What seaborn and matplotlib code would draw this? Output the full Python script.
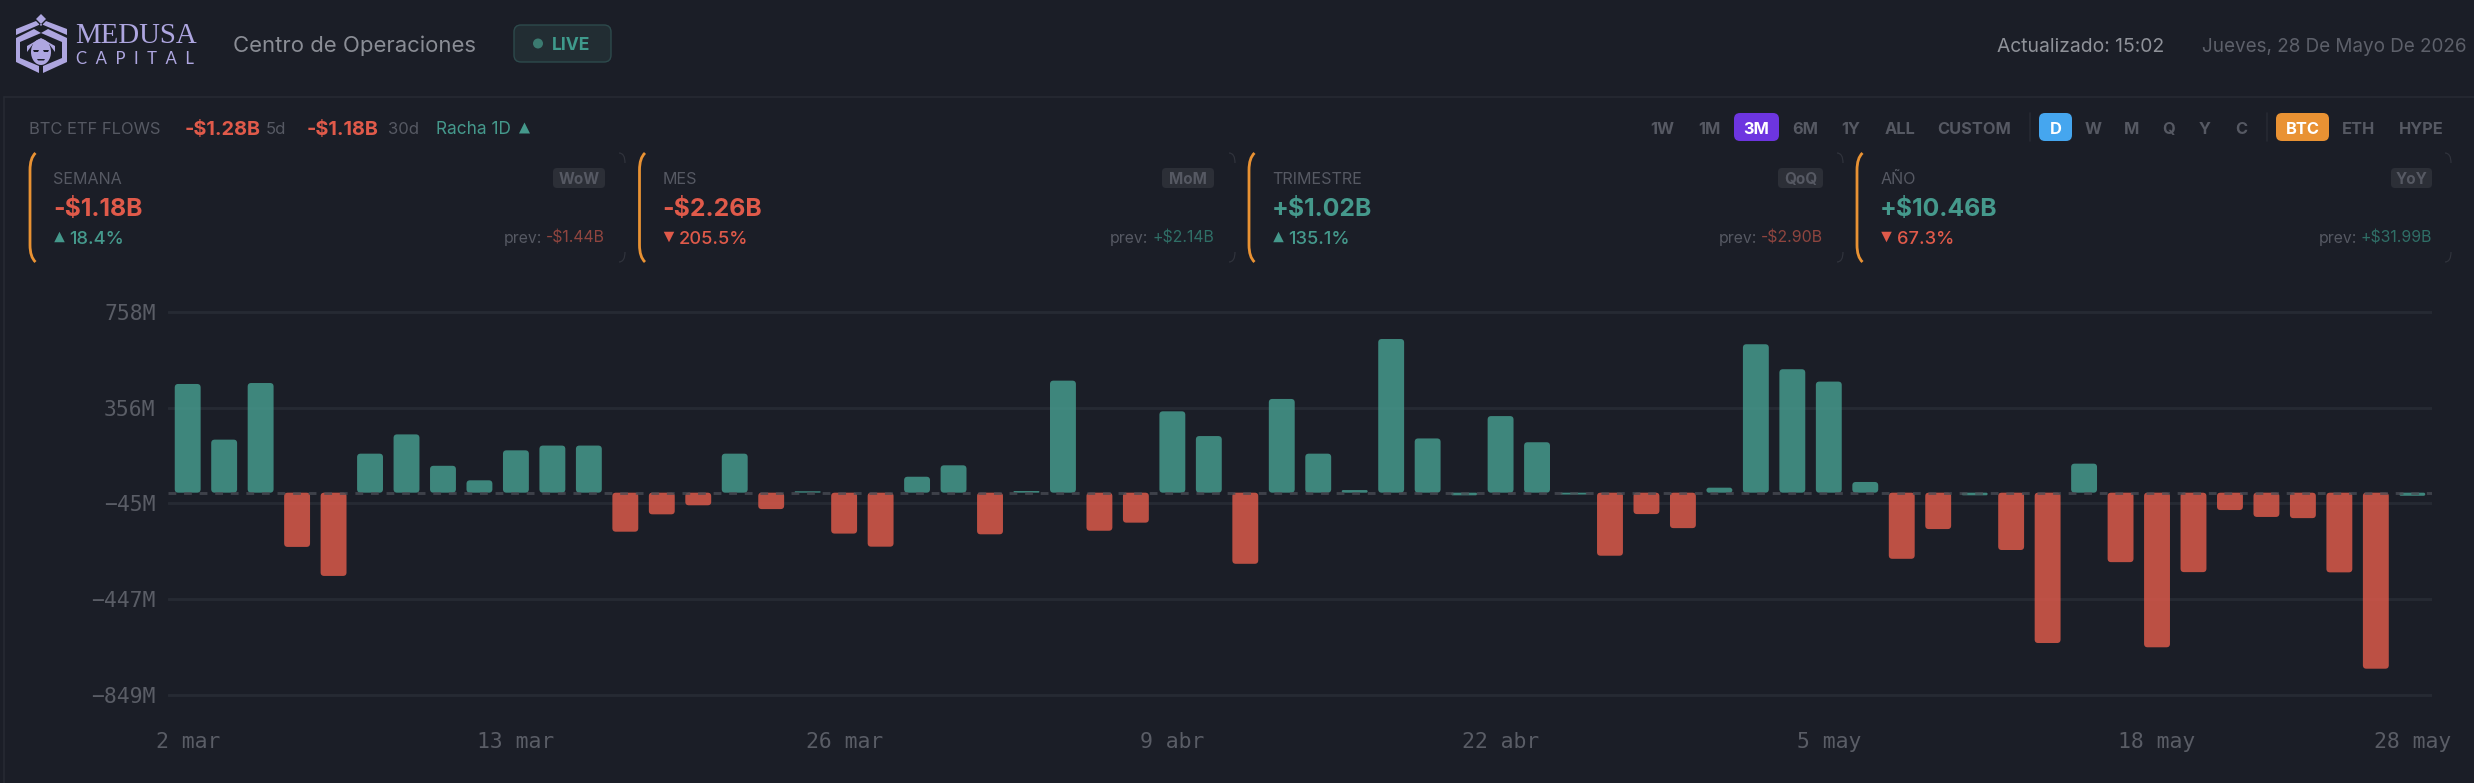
import matplotlib

matplotlib.use("Agg")
import matplotlib.pyplot as plt
import pandas as pd
import seaborn as sns
from matplotlib.patches import Circle, FancyBboxPatch, PathPatch, Polygon, Ellipse
from matplotlib.path import Path

# daily net flows, millions of dollars, 2 mar -> 28 may
flows = [
    457, 223, 461, -228, -350, 164, 245, 113, 52, 178, 198, 198, -164, -91, -53, 164,
    -69, 6, -172, -227, 67, 115, -175, 7, 471, -160, -126, 342, 238, -299, 394, 164,
    11, 646, 228, -11, 322, 212, -8, -265, -90, -149, 21, 624, 519, 467, 45, -278,
    -153, -11, -241, -632, 122, -292, -650, -334, -73, -102, -107, -335, -740, -13,
]
y_ticks = [758, 356, -45, -447, -849]
y_tick_labels = ["758M", "356M", "−45M", "−447M", "−849M"]
x_tick_days = [0, 9, 18, 27, 36, 45, 54, 61]
x_tick_labels = ["2 mar", "13 mar", "26 mar", "9 abr", "22 abr", "5 may", "18 may", "28 may"]

card_names = ["SEMANA", "MES", "TRIMESTRE", "AÑO"]
card_values = ["-$1.18B", "-$2.26B", "+$1.02B", "+$10.46B"]
card_deltas = ["18.4%", "205.5%", "135.1%", "67.3%"]
card_delta_up = [True, False, True, False]
card_badges = ["WoW", "MoM", "QoQ", "YoY"]
card_prev = ["-$1.44B", "+$2.14B", "-$2.90B", "+$31.99B"]

range_buttons = ["1W", "1M", "3M", "6M", "1Y", "ALL", "CUSTOM"]
freq_buttons = ["D", "W", "M", "Q", "Y", "C"]
asset_buttons = ["BTC", "ETH", "HYPE"]

BG = "#1b1e27"
LINE = "#262a33"
TEAL = "#45998c"
RED = "#da594a"
MUTED = "#565963"
ORANGE = "#e99233"
LOGO = "#aea6e0"
UI_FONT = ["Inter", "DejaVu Sans"]
MONO_FONT = ["DejaVu Sans Mono"]

W, H = 2474, 783

sns.set_theme(style="dark")
plt.rcParams["font.family"] = UI_FONT

fig = plt.figure(figsize=(W / 100, H / 100), dpi=100, facecolor=BG)

# overlay in pixels for the dashboard furniture
ui = fig.add_axes([0, 0, 1, 1], zorder=0)
ui.set_xlim(0, W)
ui.set_ylim(H, 0)
ui.axis("off")


def label(x, y, s, size, color=MUTED, weight="normal", ha="left", family=None):
    return ui.text(
        x, y, s, fontsize=size, color=color, fontweight=weight, ha=ha, va="center_baseline",
        family=family or UI_FONT,
    )


def pill(x0, y0, x1, y1, radius, face, edge="none", lw=0):
    ui.add_patch(
        FancyBboxPatch(
            (x0 + radius, y0 + radius), x1 - x0 - 2 * radius, y1 - y0 - 2 * radius,
            boxstyle=f"round,pad={radius},rounding_size={radius}",
            facecolor=face, edgecolor=edge, linewidth=lw,
        )
    )


def draw_logo():
    ui.add_patch(Polygon([(41, 14), (46, 19), (41, 24), (36, 19)], color=LOGO, lw=0))
    ui.add_patch(Polygon([(16, 29), (36, 21), (41, 26), (46, 21), (67, 29), (67, 35), (41, 24), (16, 35)], color=LOGO, lw=0))
    ui.add_patch(Polygon([(16, 38), (34, 29), (41, 33), (48, 29), (67, 38), (67, 62), (43, 73), (43, 66), (62, 58), (62, 42), (41, 33), (20, 42), (20, 58), (39, 66), (39, 73), (16, 62)], color=LOGO, lw=0))
    ui.add_patch(Polygon([(27, 46), (41, 38), (55, 46), (55, 52), (49, 44), (33, 44), (27, 52)], color=LOGO, lw=0))
    ui.add_patch(Ellipse((41, 52), 20, 26, color=LOGO, lw=0))
    ui.add_patch(Polygon([(33, 50), (39, 50), (38, 52), (34, 52)], color=BG, lw=0))
    ui.add_patch(Polygon([(43, 50), (49, 50), (48, 52), (44, 52)], color=BG, lw=0))
    ui.add_patch(Polygon([(37, 59), (45, 59), (44, 60.5), (38, 60.5)], color=BG, lw=0))
    ui.text(75, 43, "MEDUSA", fontsize=20.8, color=LOGO, family="Liberation Serif", va="baseline")
    ui.text(76, 64, "C  A  P  I  T  A  L", fontsize=12.1, color=LOGO, family="Lato", va="baseline")


def draw_header():
    draw_logo()
    label(233, 44, "Centro de Operaciones", 15.9, "#8a8d95")
    pill(514, 25, 611, 62, 7, "#222d33", "#2d4a4c", 1)
    ui.add_patch(Circle((538, 43.5), 5, color="#3b7a70", lw=0))
    label(552, 44, "LIVE", 12.6, "#3f9a8c", "bold")
    label(2164, 45, "Actualizado: 15:02", 13.9, "#8f9299", ha="right")
    label(2466, 45, "Jueves, 28 De Mayo De 2026", 13.6, "#5d606a", ha="right")
    ui.plot([4, W], [97, 97], color=LINE, lw=1.2)
    ui.plot([4, 4], [97, H], color=LINE, lw=1.2)


def draw_ticker():
    label(29, 128, "BTC ETF FLOWS", 11.9, MUTED)
    label(185, 128, "-$1.28B", 14.3, "#e05a4a", "bold")
    label(266, 128, "5d", 12, MUTED)
    label(307, 128, "-$1.18B", 14.3, "#e05a4a", "bold")
    label(388, 128, "30d", 12, MUTED)
    label(436, 128, "Racha 1D", 12.4, TEAL)
    triangle(524.5, 128, True, TEAL, 11)


def triangle(cx, cy, up, color, w):
    h = w if up else -w
    ui.add_patch(Polygon([(cx - w / 2, cy + h / 2), (cx + w / 2, cy + h / 2), (cx, cy - h / 2)], color=color, lw=0))


def draw_buttons():
    ys = (113, 141)
    size = 11.8
    centers = [1662, 1709, 1756.5, 1805, 1851, 1900, 1974]
    for name, cx in zip(range_buttons, centers):
        active = name == "3M"
        if active:
            pill(1734, ys[0], 1779, ys[1], 6, "#6d35e0")
        label(cx, 128, name, size, "white" if active else MUTED, "bold", ha="center")
    ui.plot([2029.5, 2029.5], ys, color=LINE, lw=1.2)
    centers = [2055.5, 2093, 2132, 2169, 2205, 2241]
    for name, cx in zip(freq_buttons, centers):
        active = name == "D"
        if active:
            pill(2039, ys[0], 2072, ys[1], 6, "#45a6ef")
        label(cx, 128, name, size, "white" if active else MUTED, "bold", ha="center")
    ui.plot([2266.5, 2266.5], ys, color=LINE, lw=1.2)
    centers = [2302.5, 2358.5, 2421]
    for name, cx in zip(asset_buttons, centers):
        active = name == "BTC"
        if active:
            pill(2276, ys[0], 2329, ys[1], 6, ORANGE)
        label(cx, 128, name, size, "white" if active else MUTED, "bold", ha="center")


def draw_cards():
    lefts = [29, 638.5, 1248, 1856]
    rights = [625, 1235, 1843, 2451]
    badge_rights = [605, 1214, 1823, 2432]
    badge_widths = [52, 52, 45, 41]
    for i, name in enumerate(card_names):
        x0, x1 = lefts[i], rights[i]
        bracket = Path(
            [(x0 + 6.5, 153), (x0 + 1, 158), (x0 + 1, 170), (x0 + 1, 245), (x0 + 1, 257), (x0 + 6.5, 262)],
            [Path.MOVETO, Path.CURVE3, Path.CURVE3, Path.LINETO, Path.CURVE3, Path.CURVE3],
        )
        ui.add_patch(PathPatch(bracket, fill=False, edgecolor=ORANGE, lw=2))
        for y_a, y_b in ((153, 163), (262, 252)):
            corner = Path([(x1 - 6, y_a), (x1, y_a), (x1, y_b)], [Path.MOVETO, Path.CURVE3, Path.CURVE3])
            ui.add_patch(PathPatch(corner, fill=False, edgecolor="#32353e", lw=0.8))

        value = card_values[i]
        label(x0 + 24.5, 177.5, name, 11.6, MUTED)
        label(x0 + 24, 206.5, value, 17.8, "#e05a4a" if value[0] == "-" else TEAL, "bold")

        up = card_delta_up[i]
        delta_color = TEAL if up else "#e05a4a"
        triangle(x0 + 30.5, 237, up, delta_color, 10.5)
        label(x0 + 40.5, 237, card_deltas[i], 13.2, delta_color, "medium")

        bx = badge_rights[i]
        pill(bx - badge_widths[i], 168, bx, 188, 4, "#2c2f37")
        label(bx - badge_widths[i] / 2, 178, card_badges[i], 11, MUTED, "bold", ha="center")

        prev = card_prev[i]
        prev_text = label(bx, 237, prev, 11.4, "#8f453f" if prev[0] == "-" else "#2f6e66", ha="right")
        fig.canvas.draw()
        left_edge = ui.transData.inverted().transform(
            prev_text.get_window_extent(fig.canvas.get_renderer()).get_points()
        )[0][0]
        label(left_edge - 4, 237, "prev:", 11.4, MUTED, ha="right")


draw_header()
draw_ticker()
draw_buttons()
draw_cards()

# chart
df = pd.DataFrame({"day": range(len(flows)), "flow": flows})
# the very small bars stay teal even when they dip under the zero line
df["side"] = ["in" if v > -20 else "out" for v in flows]

ax = fig.add_axes([168 / W, 1 - 707 / H, (2432 - 168) / W, 407 / H], zorder=1)
ax.set_facecolor("none")
sns.barplot(
    data=df, x="day", y="flow", hue="side", palette={"in": TEAL, "out": RED},
    dodge=False, width=0.71, legend=False, ax=ax, saturation=1, zorder=3,
)
ax.set_xlim(-0.54, 61.54)
ax.set_ylim(-901, 810)

# round the corners of the bars
x_per_px = (61.54 + 0.54) / (2432 - 168)
y_per_px = (810 + 901) / 407
aspect = y_per_px / x_per_px
for bar in list(ax.patches):
    x, y = bar.get_x(), bar.get_y()
    w, h = bar.get_width(), bar.get_height()
    y_low, h_abs = min(y, y + h), abs(h)
    r = min(3.5 * x_per_px, h_abs / 2 / aspect)
    ax.add_patch(
        FancyBboxPatch(
            (x + r, y_low + r * aspect), w - 2 * r, h_abs - 2 * r * aspect,
            boxstyle=f"round,pad={r},rounding_size={r}", mutation_aspect=aspect,
            facecolor=bar.get_facecolor(), edgecolor="none", alpha=0.85, zorder=3,
        )
    )
    bar.remove()

for v in y_ticks:
    ax.axhline(v, color=LINE, lw=2.1, zorder=1)
ax.axhline(0, color="#4a4d55", alpha=0.75, lw=2.1, dashes=(2.67, 2.67), zorder=4)

ax.set_xticks(x_tick_days)
ax.set_xticklabels(x_tick_labels)
ax.set_yticks(y_ticks)
ax.set_yticklabels(y_tick_labels)
ax.tick_params(axis="x", length=0, pad=18, labelsize=15.4, labelcolor="#5a5d66")
ax.tick_params(axis="y", length=0, pad=9, labelsize=15.4, labelcolor="#5a5d66")
for tick in ax.get_xticklabels() + ax.get_yticklabels():
    tick.set_family(MONO_FONT)
ax.set_xlabel("")
ax.set_ylabel("")
ax.grid(False)
sns.despine(ax=ax, left=True, bottom=True)

fig.savefig("out.png", dpi=100, facecolor=BG)
